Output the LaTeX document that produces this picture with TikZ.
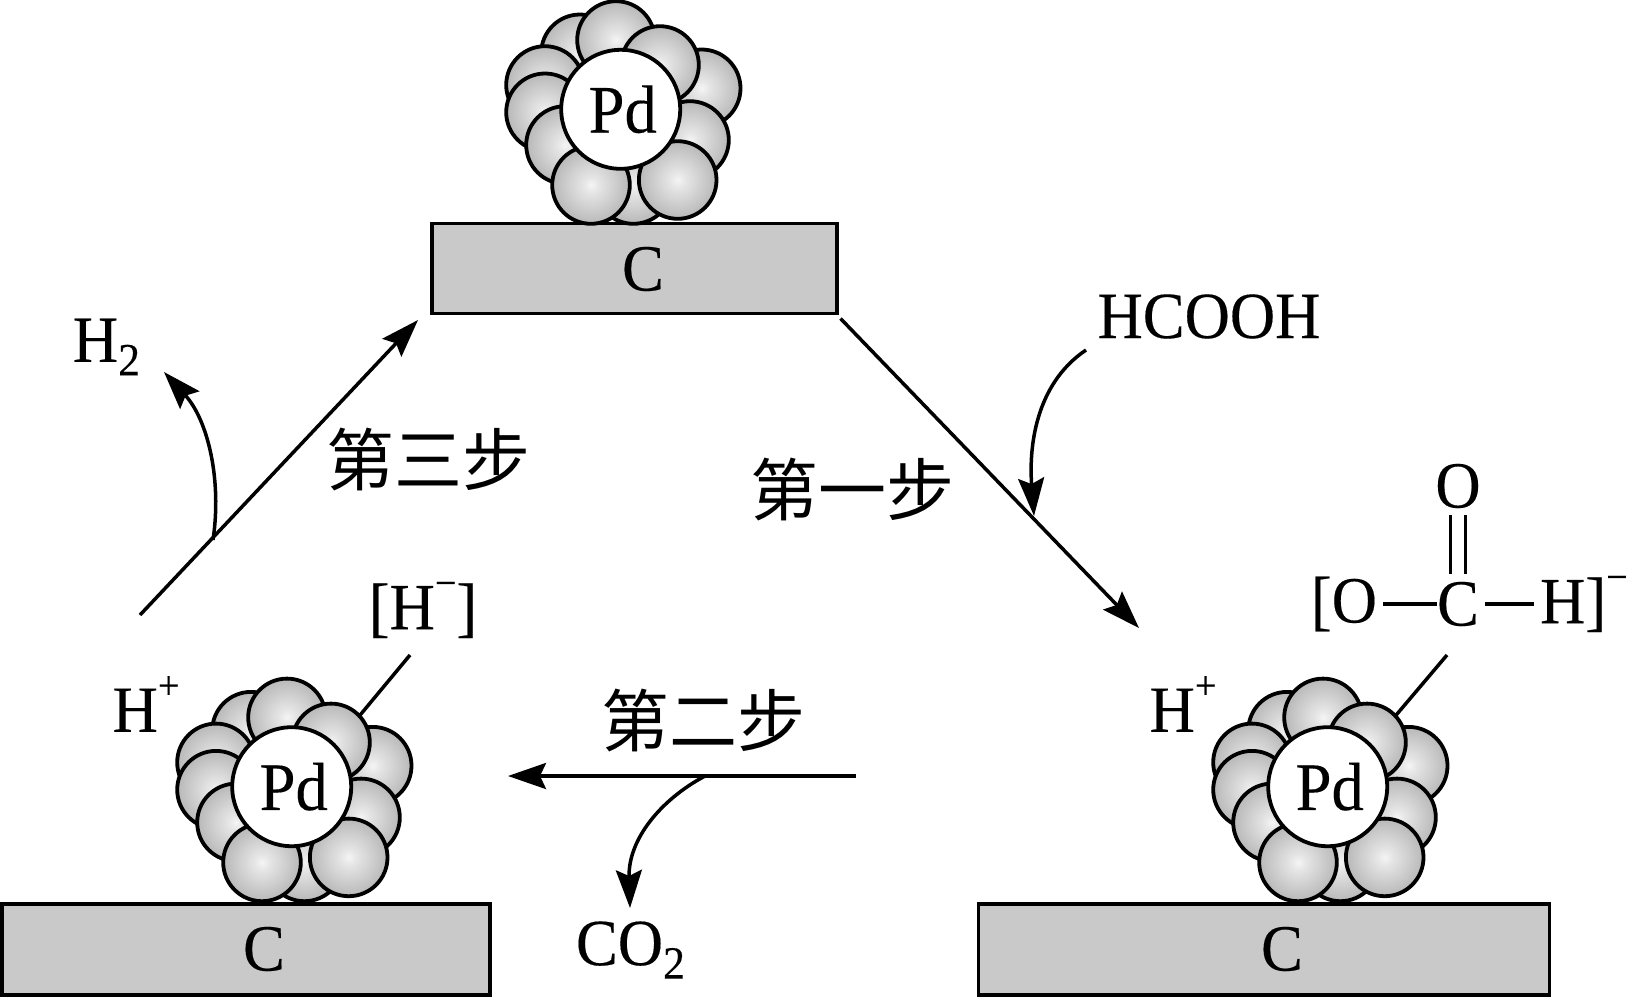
\documentclass[tikz,border=0pt]{standalone}
\usepackage{fontspec}
\setmainfont[FakeStretch=0.95, FakeBold=0.25]{Liberation Serif}
\newfontfamily\cjk{Noto Sans CJK SC}
\usetikzlibrary{arrows.meta}

\pgfdeclareradialshading{pdshade}{\pgfpoint{0bp}{0bp}}{rgb(0bp)=(0.96,0.96,0.96); rgb(5bp)=(0.9,0.9,0.9); rgb(50bp)=(0.5,0.5,0.5)}
\definecolor{slabgray}{HTML}{C9C9C9}

\tikzset{
    pdball/.style={circle, draw, line width=1.9pt, shading=pdshade, minimum size=38.8pt, inner sep=0, outer sep=0},
    pdcore/.style={circle, draw, line width=1.9pt, fill=white, minimum size=59.5pt, inner sep=0, outer sep=0, font=\fontsize{34}{34}\selectfont},
    slab/.style={draw, line width=1.9pt, fill=slabgray},
    atom/.style={inner sep=0, outer sep=0, font=\fontsize{33}{33}\selectfont},
    steplabel/.style={inner sep=0, font=\fontsize{34}{34}\selectfont\cjk},
    flow/.style={line width=1.75pt, -{Stealth[length=19pt, width=13pt, inset=3pt]}},
    bond/.style={line width=1.75pt}
}

\newcommand{\chemsup}[1]{\raisebox{0.5em}{\fontsize{20}{20}\selectfont #1}}

% one Pd particle, back balls first
\newcommand{\pdcluster}[2]{
    \begin{scope}[shift={(#2)}]
        \foreach \k/\px/\py in {a/-40.7/-56, b/81/-21, c/-75.7/-24.3, d/-75.7/3, e/-4.7/-69.3, f/39.3/-44.3,
            g/69.3/30.7, h/-55.7/35.7, i/12.7/75.7, j/-29.7/75.7, k/57/70.7}
            \node[pdball] (#1-\k) at (\px,\py) {};
        \node[pdcore] (#1) at (0,0) {\hspace{2pt}Pd};
    \end{scope}
}

\begin{document}
\begin{tikzpicture}[x=0.5pt, y=-0.5pt]
    \useasboundingbox (0,0) rectangle (1627,997);

    % carbon supports
    \node[slab, minimum width=202.5pt, minimum height=45pt] (topslab) at (634.5,268.5) {};
    \node[slab, minimum width=244pt, minimum height=45.5pt] (leftslab) at (246,949.5) {};
    \node[slab, minimum width=285.5pt, minimum height=45.5pt] (rightslab) at (1264,949.5) {};
    \node[atom] (topc) at (643,269) {C};
    \node[atom] (leftc) at (264,949) {C};
    \node[atom] (rightc) at (1282,949) {C};

    \pdcluster{toppd}{620.7,109.3}
    \pdcluster{leftpd}{291.7,786.7}
    \pdcluster{rightpd}{1327.7,786.7}

    % cycle arrows
    \coordinate (onestart) at (840.5,318.5);
    \coordinate (oneend) at (1139,628);
    \coordinate (twostart) at (856,776);
    \coordinate (twoend) at (508,776);
    \coordinate (threestart) at (140,615);
    \coordinate (threeend) at (418,320);
    \draw[flow] (onestart) -- (oneend);
    \draw[flow] (twostart) -- (twoend);
    \draw[flow] (threestart) -- (threeend);

    \node[steplabel] (stepone) at (852,490) {第一步};
    \node[steplabel] (steptwo) at (703.5,721) {第二步};
    \node[steplabel] (stepthree) at (428.5,460) {第三步};

    % what goes in and out
    \node[atom] (hcooh) at (1209,316.5) {HCOOH};
    \node[atom] (htwo) at (107,347) {H\textsubscript{2}};
    \node[atom] (cotwo) at (631,950) {CO\textsubscript{2}};
    \coordinate (hcoohtail) at (1086,350);
    \coordinate (hcoohtip) at (1034,516);
    \coordinate (htwotail) at (213,540);
    \coordinate (htwotip) at (164,372);
    \coordinate (cotwotail) at (705,776);
    \coordinate (cotwotip) at (630,908);
    \draw[flow] (hcoohtail) .. controls (1034,385) and (1029,450) .. (hcoohtip);
    \draw[flow] (htwotail) .. controls (222,480) and (208,420) .. (htwotip);
    \draw[flow] (cotwotail) .. controls (660,800) and (628,840) .. (cotwotip);

    % adsorbed species
    \node[atom] (lefth) at (146,704) {H\chemsup{+}};
    \node[atom] (righth) at (1183,704) {H\chemsup{+}};
    \node[atom] (hminus) at (423,610) {[H\chemsup{−}]};
    \coordinate (hminusfoot) at (410,655);
    \draw[bond] (hminusfoot) -- (leftpd-f.43);

    \node[atom] (formo) at (1458,486) {O};
    \node[atom] (formc) at (1458,604) {C};
    \node[atom, anchor=east] (forml) at (1377,604) {[O};
    \node[atom, anchor=west] (formh) at (1540,604) {H]\chemsup{−}};
    \coordinate (formfoot) at (1447,655);
    \draw[bond, shorten <=3pt] (forml.east |- formc) -- (formc.west);
    \draw[bond, shorten >=3pt, shorten <=3pt] (formc.east) -- (formh.west |- formc);
    \draw[bond, shorten <=3.5pt, shorten >=4pt] ([xshift=-3.75pt]formo.south) -- ([xshift=-3.75pt]formc.north);
    \draw[bond, shorten <=3.5pt, shorten >=4pt] ([xshift=3.75pt]formo.south) -- ([xshift=3.75pt]formc.north);
    \draw[bond] (formfoot) -- (rightpd-f.43);
\end{tikzpicture}
\end{document}
